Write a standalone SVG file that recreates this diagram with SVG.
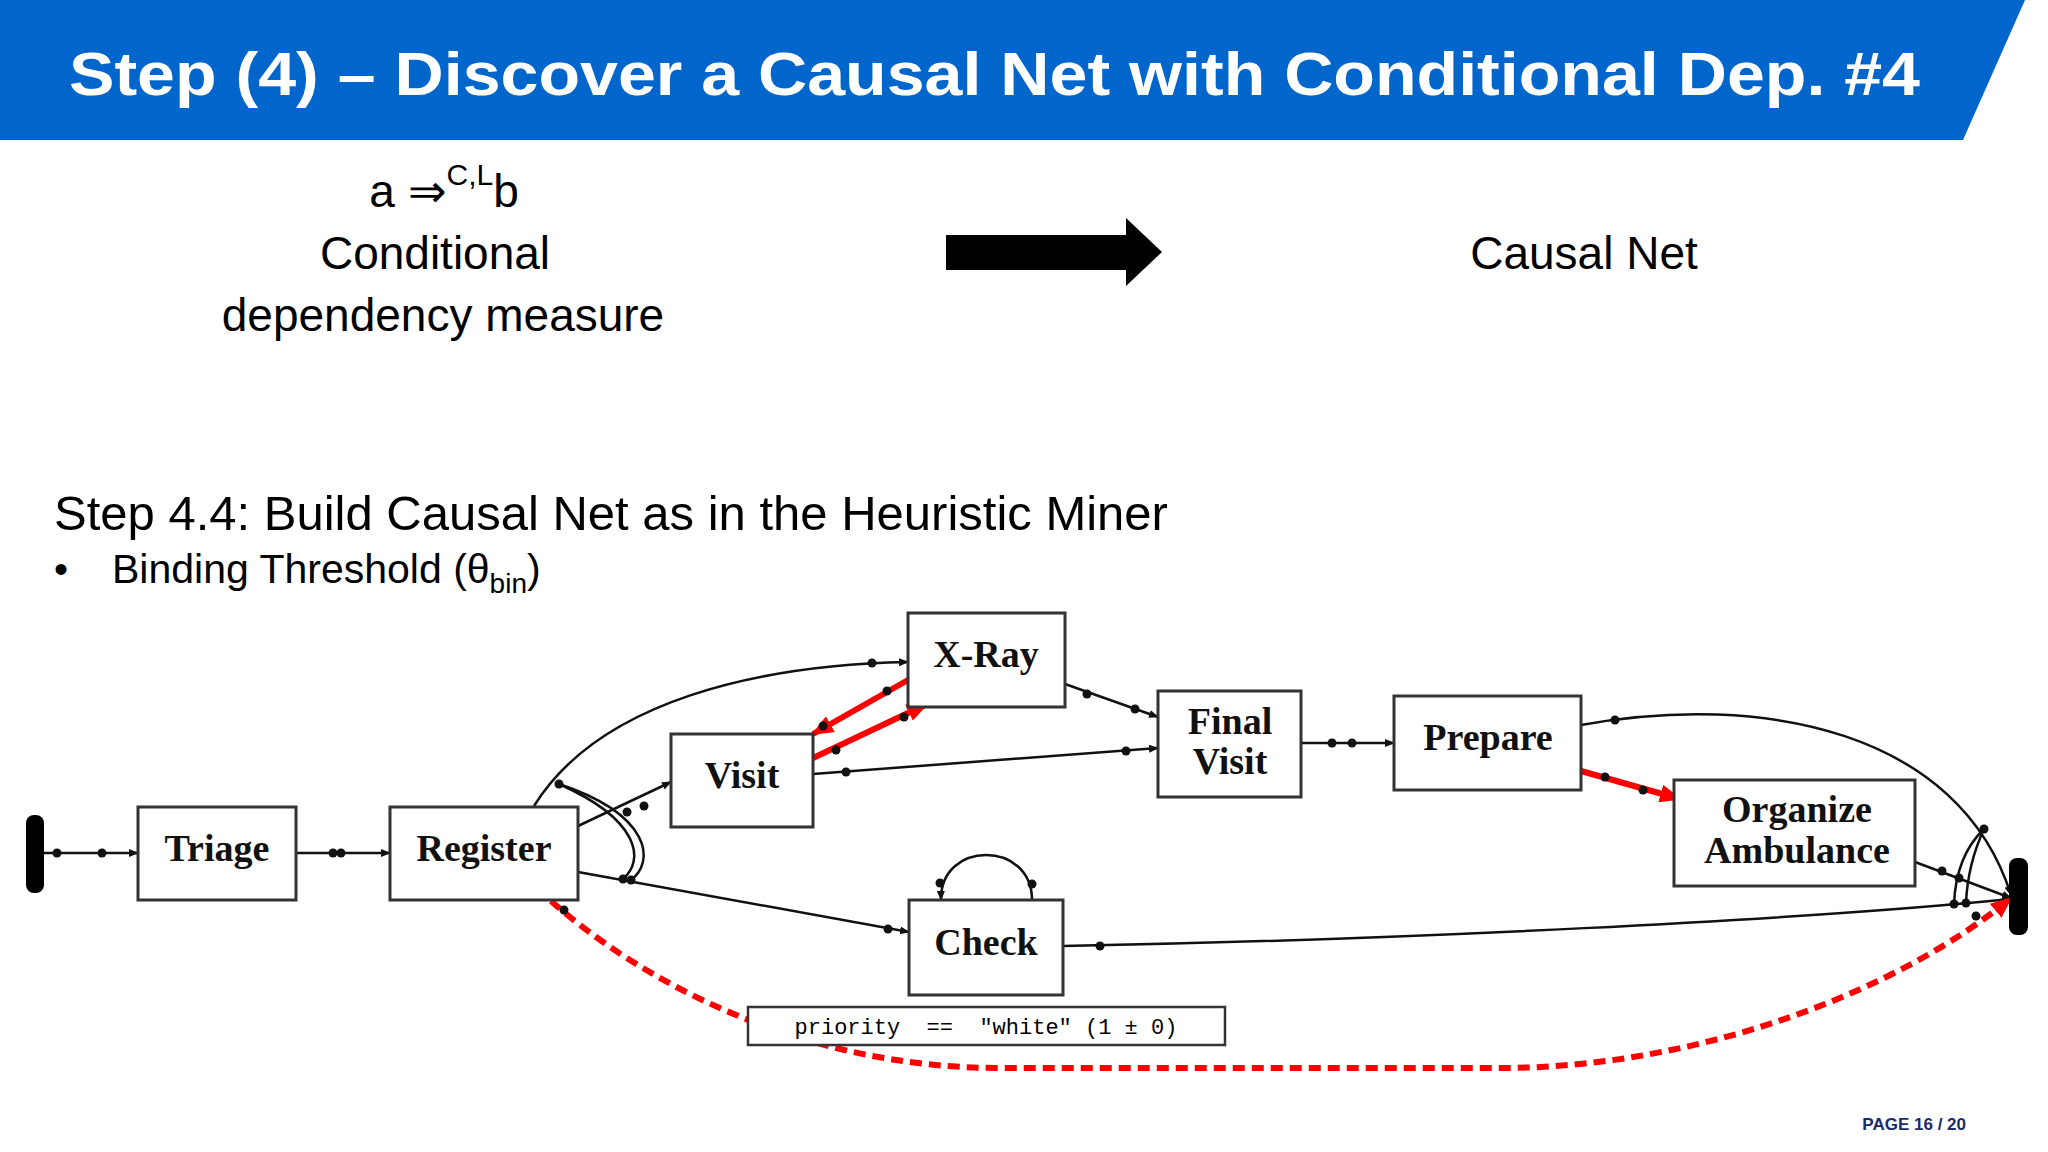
<svg xmlns="http://www.w3.org/2000/svg" width="2048" height="1152" viewBox="0 0 2048 1152">
<style>
.node rect{fill:#fff;stroke:#333;stroke-width:3}
.node text{font-family:"Liberation Serif",serif;font-weight:bold;font-size:38px;text-anchor:middle;fill:#111}
.c{fill:none;stroke:#111;stroke-width:2.5}
.r{fill:none;stroke:#f00;stroke-width:6}
.rd{fill:none;stroke:#f00;stroke-width:6;stroke-dasharray:12 7}
.d{fill:#111}
.t{font-family:"Liberation Sans",Arial,sans-serif;fill:#000}
</style>
<defs>
<marker id="ah" markerWidth="10" markerHeight="10" refX="9" refY="5" orient="auto" markerUnits="userSpaceOnUse"><path d="M0,1 L10,5 L0,9 Z" fill="#111"/></marker>
<marker id="rh" markerWidth="22" markerHeight="18" refX="20" refY="9" orient="auto" markerUnits="userSpaceOnUse"><path d="M0,0 L22,9 L0,18 Z" fill="#f00"/></marker>
</defs>
<rect width="2048" height="1152" fill="#fff"/>
<polygon points="0,0 2025,0 1963,140 0,140" fill="#0066cc"/>
<text class="t" x="69" y="95" font-size="62" font-weight="bold" fill="#fff" style="fill:#fff" textLength="1851" lengthAdjust="spacingAndGlyphs">Step (4) – Discover a Causal Net with Conditional Dep. #4</text>
<text class="t" x="444" y="207" font-size="46" text-anchor="middle">a ⇒<tspan dy="-22" font-size="30">C,L</tspan><tspan dy="22">b</tspan></text>
<text class="t" x="435" y="269" font-size="46" text-anchor="middle">Conditional</text>
<text class="t" x="443" y="331" font-size="46" text-anchor="middle">dependency measure</text>
<path d="M946,235 H1126 V218 L1162,252 L1126,286 V270 H946 Z" fill="#000"/>
<text class="t" x="1584" y="269" font-size="46" text-anchor="middle">Causal Net</text>
<text class="t" x="54" y="530" font-size="49">Step 4.4: Build Causal Net as in the Heuristic Miner</text>
<text class="t" x="54" y="583" font-size="40">•</text>
<text class="t" x="112" y="583" font-size="41">Binding Threshold (θ<tspan dy="10" font-size="28">bin</tspan><tspan dy="-10">)</tspan></text>
<text class="t" x="1966" y="1130" font-size="17" font-weight="bold" text-anchor="end" style="fill:#1a2a6c">PAGE 16 / 20</text>

<g id="connectors">
<path class="c" d="M44,853 H138" marker-end="url(#ah)"/>
<path class="c" d="M296,853 H390" marker-end="url(#ah)"/>
<path class="c" d="M578,826 L671,782" marker-end="url(#ah)"/>
<path class="c" d="M534,806 C600,700 760,665 908,662" marker-end="url(#ah)"/>
<path class="c" d="M559,784 C640,820 645,860 623,879"/>
<path class="c" d="M559,784 C652,815 655,862 631,880"/>
<path class="c" d="M578,872 L909,932" marker-end="url(#ah)"/>
<path class="c" d="M813,774 L1158,748" marker-end="url(#ah)"/>
<path class="c" d="M1065,684 L1158,717" marker-end="url(#ah)"/>
<path class="c" d="M1301,743 H1394" marker-end="url(#ah)"/>
<path class="c" d="M1581,725 C1763,692 1959,731 2011,895" marker-end="url(#ah)"/>
<path class="c" d="M1915,862 L2011,898" marker-end="url(#ah)"/>
<path class="c" d="M1063,946 C1400,940 1800,920 2011,899" marker-end="url(#ah)"/>
<path class="c" d="M1984,829 C1962,850 1955,880 1954,904"/>
<path class="c" d="M1984,829 C1972,855 1967,880 1966,903"/>
<path class="c" d="M1032,900 C1032,840 940,840 941,900" marker-end="url(#ah)"/>
<path class="r" d="M908,680 L813,734" marker-end="url(#rh)"/>
<path class="r" d="M813,758 L927,704" marker-end="url(#rh)"/>
<path class="r" d="M1581,771 L1680,799" marker-end="url(#rh)"/>
<path class="rd" d="M551,901 C640,980 800,1068 1000,1068 L1500,1068 C1700,1068 1900,990 2011,898" marker-end="url(#rh)"/>
<g class="d">
<circle cx="57" cy="853" r="4.5"/><circle cx="102" cy="853" r="4.5"/>
<circle cx="333" cy="853" r="4.5"/><circle cx="341" cy="853" r="4.5"/>
<circle cx="627" cy="812" r="4.5"/><circle cx="644" cy="806" r="4.5"/>
<circle cx="559" cy="784" r="4.5"/><circle cx="872" cy="663" r="4.5"/>
<circle cx="623" cy="879" r="4.5"/><circle cx="631" cy="880" r="4.5"/><circle cx="888" cy="929" r="4.5"/>
<circle cx="887" cy="691" r="4.5"/><circle cx="823" cy="726" r="4.5"/>
<circle cx="836" cy="750" r="4.5"/><circle cx="904" cy="717" r="4.5"/>
<circle cx="846" cy="772" r="4.5"/><circle cx="1126" cy="751" r="4.5"/>
<circle cx="1087" cy="694" r="4.5"/><circle cx="1135" cy="709" r="4.5"/>
<circle cx="1332" cy="743" r="4.5"/><circle cx="1352" cy="743" r="4.5"/>
<circle cx="1605" cy="777" r="4.5"/><circle cx="1643" cy="790" r="4.5"/>
<circle cx="1615" cy="720" r="4.5"/><circle cx="1984" cy="829" r="4.5"/>
<circle cx="1942" cy="871" r="4.5"/><circle cx="1959" cy="878" r="4.5"/>
<circle cx="1100" cy="946" r="4.5"/><circle cx="1954" cy="904" r="4.5"/><circle cx="1966" cy="903" r="4.5"/>
<circle cx="1032" cy="884" r="4.5"/><circle cx="940" cy="883" r="4.5"/>
<circle cx="564" cy="910" r="4.5"/><circle cx="1976" cy="916" r="4.5"/>
</g>
</g>

<g id="start"><rect x="26" y="815" width="18" height="78" rx="8" fill="#000"/></g>
<g id="end"><rect x="2009" y="858" width="19" height="77" rx="8" fill="#000"/></g>
<g id="triage" class="node"><rect x="138" y="807" width="158" height="93"/><text x="217" y="861">Triage</text></g>
<g id="register" class="node"><rect x="390" y="807" width="188" height="93"/><text x="484" y="861">Register</text></g>
<g id="visit" class="node"><rect x="671" y="734" width="142" height="93"/><text x="742" y="788">Visit</text></g>
<g id="xray" class="node"><rect x="908" y="613" width="157" height="94"/><text x="986" y="667">X-Ray</text></g>
<g id="check" class="node"><rect x="909" y="900" width="154" height="95"/><text x="986" y="955">Check</text></g>
<g id="finalvisit" class="node"><rect x="1158" y="691" width="143" height="106"/><text x="1230" y="734">Final</text><text x="1230" y="774">Visit</text></g>
<g id="prepare" class="node"><rect x="1394" y="696" width="187" height="94"/><text x="1488" y="750">Prepare</text></g>
<g id="organize" class="node"><rect x="1674" y="780" width="241" height="106"/><text x="1797" y="822">Organize</text><text x="1797" y="863">Ambulance</text></g>
<g id="condition"><rect x="748" y="1007" width="477" height="38" fill="#fff" stroke="#333" stroke-width="2.5"/><text x="986" y="1034" font-family="Liberation Mono,monospace" font-size="22" text-anchor="middle" xml:space="preserve">priority  ==  "white" (1 ± 0)</text></g>
</svg>
